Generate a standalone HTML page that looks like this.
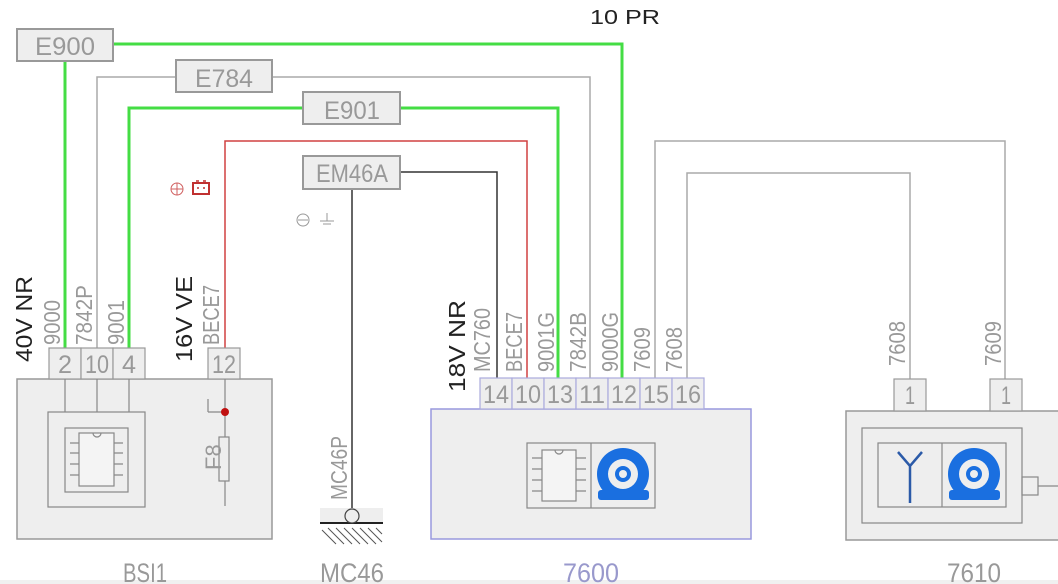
<!DOCTYPE html>
<html><head><meta charset="utf-8"><style>
html,body{margin:0;padding:0;background:#fff;width:1058px;height:584px;overflow:hidden}
text{font-family:"Liberation Sans","DejaVu Sans",sans-serif}
</style></head><body>
<svg width="1058" height="584" viewBox="0 0 1058 584" xmlns="http://www.w3.org/2000/svg">
<rect x="0" y="580" width="1058" height="4" fill="#f0f0f0"/>
<g fill="none" stroke-width="3" stroke="#44dd44">
<polyline points="65,379 65,44 113,44"/>
<polyline points="113,44 622,44 622,379"/>
<polyline points="129,379 129,108 303,108"/>
<polyline points="400,108 558,108 558,379"/>
</g>
<g fill="none" stroke-width="1.5" stroke="#aaa">
<polyline points="97,379 97,77 176,77"/>
<polyline points="272,77 590,77 590,379"/>
<polyline points="655,379 655,141 1005,141 1005,379"/>
<polyline points="687,379 687,173 910,173 910,379"/>
</g>
<polyline points="225,379 225,141 527,141 527,379" fill="none" stroke="#d04040" stroke-width="1.5"/>
<polyline points="400,172 497,172 497,379" fill="none" stroke="#333" stroke-width="1.5"/>
<line x1="352" y1="189" x2="352" y2="510" stroke="#333" stroke-width="1.5"/>
<g fill="#eee" stroke="#999" stroke-width="2">
<rect x="17" y="29" width="96" height="32"/>
<rect x="176" y="60" width="96" height="32"/>
<rect x="303" y="92" width="97" height="32"/>
<rect x="303" y="156" width="97" height="33"/>
</g>
<g fill="#999" font-size="25" text-anchor="middle">
<text x="65" y="55" textLength="60" lengthAdjust="spacingAndGlyphs">E900</text>
<text x="224" y="87" textLength="58" lengthAdjust="spacingAndGlyphs">E784</text>
<text x="352" y="119" textLength="56" lengthAdjust="spacingAndGlyphs">E901</text>
<text x="352" y="182" textLength="72" lengthAdjust="spacingAndGlyphs">EM46A</text>
</g>
<text x="590" y="24" font-size="20" fill="#222" textLength="70" lengthAdjust="spacingAndGlyphs">10  PR</text>
<circle cx="177" cy="189" r="6" fill="none" stroke="#d06060"/>
<path d="M171 189h12M177 183v12" stroke="#d06060"/>
<rect x="193" y="183" width="16" height="11" fill="none" stroke="#c03030" stroke-width="2"/>
<path d="M196 181h3M203 181h3M197 188h2M203 188h2" stroke="#c03030" stroke-width="1.5"/>
<circle cx="303" cy="220" r="6" fill="none" stroke="#999"/>
<path d="M298 220h10M327 213v8M320 221h14M323 224h8" stroke="#999"/>
<g font-size="23">
<text transform="translate(32,362) rotate(-90)" fill="#222" textLength="86" lengthAdjust="spacingAndGlyphs">40V NR</text>
<text transform="translate(60,345) rotate(-90)" fill="#999" textLength="45" lengthAdjust="spacingAndGlyphs">9000</text>
<text transform="translate(92,345) rotate(-90)" fill="#999" textLength="60" lengthAdjust="spacingAndGlyphs">7842P</text>
<text transform="translate(124,345) rotate(-90)" fill="#999" textLength="45" lengthAdjust="spacingAndGlyphs">9001</text>
<text transform="translate(192,362) rotate(-90)" fill="#222" textLength="86" lengthAdjust="spacingAndGlyphs">16V VE</text>
<text transform="translate(219,345) rotate(-90)" fill="#999" textLength="60" lengthAdjust="spacingAndGlyphs">BECE7</text>
<text transform="translate(347,500) rotate(-90)" fill="#999" textLength="64" lengthAdjust="spacingAndGlyphs">MC46P</text>
<text transform="translate(465,392) rotate(-90)" fill="#222" textLength="92" lengthAdjust="spacingAndGlyphs">18V NR</text>
<text transform="translate(490,372) rotate(-90)" fill="#999" textLength="64" lengthAdjust="spacingAndGlyphs">MC760</text>
<text transform="translate(522,372) rotate(-90)" fill="#999" textLength="60" lengthAdjust="spacingAndGlyphs">BECE7</text>
<text transform="translate(554,372) rotate(-90)" fill="#999" textLength="60" lengthAdjust="spacingAndGlyphs">9001G</text>
<text transform="translate(586,372) rotate(-90)" fill="#999" textLength="60" lengthAdjust="spacingAndGlyphs">7842B</text>
<text transform="translate(618,372) rotate(-90)" fill="#999" textLength="60" lengthAdjust="spacingAndGlyphs">9000G</text>
<text transform="translate(650,372) rotate(-90)" fill="#999" textLength="45" lengthAdjust="spacingAndGlyphs">7609</text>
<text transform="translate(682,372) rotate(-90)" fill="#999" textLength="45" lengthAdjust="spacingAndGlyphs">7608</text>
<text transform="translate(905,366) rotate(-90)" fill="#999" textLength="45" lengthAdjust="spacingAndGlyphs">7608</text>
<text transform="translate(1001,366) rotate(-90)" fill="#999" textLength="45" lengthAdjust="spacingAndGlyphs">7609</text>
</g>
<rect x="17" y="379" width="255" height="160" fill="#eee" stroke="#999" stroke-width="1.5"/>
<g fill="#eee" stroke="#999" stroke-width="1.2">
<rect x="49" y="348" width="32" height="31"/><rect x="81" y="348" width="32" height="31"/><rect x="113" y="348" width="32" height="31"/>
<rect x="208" y="348" width="32" height="31"/>
</g>
<g fill="none" stroke="#888" stroke-width="1.2">
<path d="M65 379v33M97 379v33M129 379v33"/>
<rect x="48" y="412" width="97" height="95"/>
<rect x="65" y="428" width="63" height="64"/>
<rect x="79" y="433" width="35" height="53" fill="#f4f4f4"/>
<path d="M70 443h9M70 453h9M70 464h9M70 475h9M114 443h9M114 453h9M114 464h9M114 475h9"/>
<path d="M93 433a4 4 0 0 0 8 0"/>
<path d="M225 379v127M208 412v-13M208 412h17"/>
<rect x="219" y="437" width="10" height="44" fill="#eee"/>
</g>
<circle cx="225" cy="412" r="4" fill="#c01010"/>
<g fill="#999" font-size="25" text-anchor="middle">
<text x="65" y="373" textLength="14" lengthAdjust="spacingAndGlyphs">2</text><text x="97" y="373" textLength="24" lengthAdjust="spacingAndGlyphs">10</text><text x="129" y="373" textLength="14" lengthAdjust="spacingAndGlyphs">4</text><text x="224" y="373" textLength="24" lengthAdjust="spacingAndGlyphs">12</text>
<text transform="translate(221,470) rotate(-90)" font-size="22" text-anchor="start">F8</text>
</g>
<rect x="320" y="508" width="63" height="15" fill="#eee"/>
<line x1="320" y1="523" x2="383" y2="523" stroke="#222" stroke-width="2"/>
<g stroke="#555" stroke-width="1">
<path d="M322 530l14 14M328 528l16 16M336 528l16 16M344 528l16 16M352 528l16 16M360 528l16 16M368 528l14 14M376 528l6 6"/>
</g>
<circle cx="352" cy="516" r="7" fill="#eee" stroke="#444" stroke-width="1.2"/>
<rect x="431" y="409" width="320" height="130" fill="#eee" stroke="#9999dd" stroke-width="1.5"/>
<g fill="#eee" stroke="#aaaadd" stroke-width="1.2">
<rect x="480" y="378" width="32" height="31"/><rect x="512" y="378" width="32" height="31"/><rect x="544" y="378" width="32" height="31"/><rect x="576" y="378" width="32" height="31"/><rect x="608" y="378" width="32" height="31"/><rect x="640" y="378" width="32" height="31"/><rect x="672" y="378" width="32" height="31"/>
</g>
<g fill="#999" font-size="25" text-anchor="middle">
<text x="496" y="403" textLength="26" lengthAdjust="spacingAndGlyphs">14</text><text x="528" y="403" textLength="26" lengthAdjust="spacingAndGlyphs">10</text><text x="560" y="403" textLength="26" lengthAdjust="spacingAndGlyphs">13</text><text x="592" y="403" textLength="26" lengthAdjust="spacingAndGlyphs">11</text><text x="624" y="403" textLength="26" lengthAdjust="spacingAndGlyphs">12</text><text x="656" y="403" textLength="26" lengthAdjust="spacingAndGlyphs">15</text><text x="688" y="403" textLength="26" lengthAdjust="spacingAndGlyphs">16</text>
</g>
<g fill="none" stroke="#888" stroke-width="1.2">
<rect x="527" y="443" width="128" height="65"/>
<line x1="591" y1="443" x2="591" y2="508"/>
<rect x="542" y="450" width="34" height="51" fill="#f4f4f4"/>
<path d="M532 458h10M532 469h10M532 480h10M532 491h10M576 458h10M576 469h10M576 480h10M576 491h10"/>
<path d="M555 450a4 4 0 0 0 8 0"/>
</g>
<g>
<circle cx="623" cy="474" r="26" fill="#1a6fe0"/>
<rect x="598" y="490" width="51" height="10" rx="3" fill="#1a6fe0"/>
<circle cx="623" cy="474" r="15" fill="#eee"/>
<circle cx="623" cy="474" r="8" fill="#1a6fe0"/>
<circle cx="623" cy="474" r="4" fill="#eee"/>
</g>
<rect x="846" y="411" width="220" height="129" fill="#eee" stroke="#999" stroke-width="1.5"/>
<g fill="#eee" stroke="#999" stroke-width="1.2">
<rect x="894" y="379" width="32" height="32"/><rect x="990" y="379" width="32" height="32"/>
</g>
<g fill="#999" font-size="25" text-anchor="middle"><text x="910" y="404" textLength="10" lengthAdjust="spacingAndGlyphs">1</text><text x="1006" y="404" textLength="10" lengthAdjust="spacingAndGlyphs">1</text></g>
<g fill="none" stroke="#888" stroke-width="1.2">
<rect x="862" y="428" width="160" height="95"/>
<rect x="878" y="443" width="128" height="64"/>
<line x1="942" y1="443" x2="942" y2="507"/>
<rect x="1022" y="477" width="16" height="18"/>
<line x1="1038" y1="486" x2="1058" y2="486"/>
</g>
<path d="M910 503v-37M898 452l12 14 12-14" fill="none" stroke="#2b5aa8" stroke-width="2.5"/>
<g>
<circle cx="974" cy="474" r="26" fill="#1a6fe0"/>
<rect x="949" y="490" width="51" height="10" rx="3" fill="#1a6fe0"/>
<circle cx="974" cy="474" r="15" fill="#eee"/>
<circle cx="974" cy="474" r="8" fill="#1a6fe0"/>
<circle cx="974" cy="474" r="4" fill="#eee"/>
</g>
<g font-size="27" text-anchor="middle">
<text x="145" y="582" fill="#999" textLength="44" lengthAdjust="spacingAndGlyphs">BSI1</text>
<text x="352" y="582" fill="#999" textLength="64" lengthAdjust="spacingAndGlyphs">MC46</text>
<text x="591" y="582" fill="#9999cc" textLength="56" lengthAdjust="spacingAndGlyphs">7600</text>
<text x="974" y="582" fill="#999" textLength="54" lengthAdjust="spacingAndGlyphs">7610</text>
</g>
</svg>
</body></html>
